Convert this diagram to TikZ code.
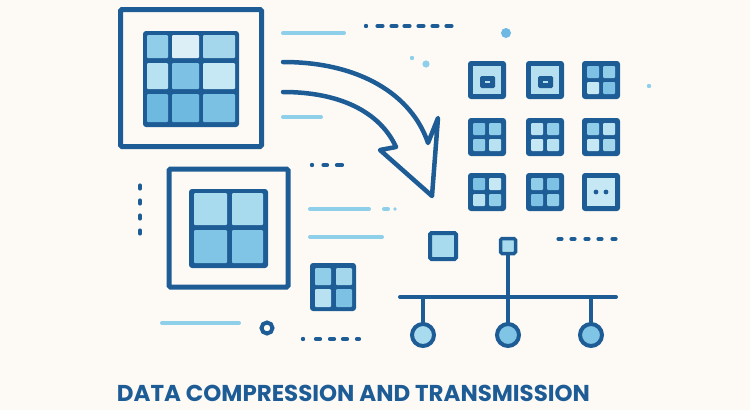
\documentclass[tikz,border=0pt]{standalone}
\usepackage{fontspec}
\newfontfamily\titlefont{Poppins}
\definecolor{bg}{RGB}{253,250,246}
\definecolor{dk}{RGB}{30,92,150}
\definecolor{lt}{RGB}{142,207,234}
\definecolor{dotlt}{RGB}{110,185,228}
\definecolor{ca}{RGB}{143,205,232}
\definecolor{cb}{RGB}{220,239,246}
\definecolor{cc}{RGB}{165,215,236}
\definecolor{cd}{RGB}{184,225,241}
\definecolor{ce}{RGB}{125,194,228}
\definecolor{cf}{RGB}{198,231,244}
\definecolor{cg}{RGB}{110,185,224}
\definecolor{ch}{RGB}{169,219,238}
\definecolor{ci}{RGB}{128,196,230}
\definecolor{cj}{RGB}{182,223,240}
\newcommand\quadicon[6]{%
  \fill[dk, rounded corners=3] (#1-19,#2-19) rectangle (#1+19,#2+19);
  \fill[#3, rounded corners=1] (#1-14,#2-14) rectangle (#1-2,#2-2);
  \fill[#4, rounded corners=1] (#1+2,#2-14) rectangle (#1+14,#2-2);
  \fill[#5, rounded corners=1] (#1-14,#2+2) rectangle (#1-2,#2+14);
  \fill[#6, rounded corners=1] (#1+2,#2+2) rectangle (#1+14,#2+14);
}
\newcommand\boxicon[2]{%
  \fill[dk, rounded corners=3] (#1-19,#2-19) rectangle (#1+19,#2+19);
  \fill[cj] (#1-14,#2-14) rectangle (#1+14,#2+14);
  \fill[dk, rounded corners=1.5] (#1-7,#2-4) rectangle (#1+8,#2+8);
  \fill[cj] (#1-2,#2+1) rectangle (#1+3,#2+3);
}
\tikzset{
  frame/.style={draw=dk, line width=5},
  ltline/.style={draw=lt, line width=4, line cap=round},
  dkdash/.style={draw=dk, line width=4.2, line cap=round},
  arrowline/.style={draw=dk, line width=4.5, line join=round, line cap=round},
  wire/.style={draw=dk, line width=4, line cap=round},
  netnode/.style={circle, draw=dk, line width=4, minimum size=22pt, inner sep=0pt},
}
\begin{document}
\begin{tikzpicture}[x=1pt,y=-1pt]
\fill[bg] (0,0) rectangle (750,410);
\useasboundingbox (0,0) rectangle (750,410);

% frame 1 with 3x3 grid
\draw[frame, rounded corners=1.5] (120.5,9.5) rectangle (261.5,146.5);
\fill[dk, rounded corners=3] (143,31) rectangle (239,127);
\fill[ca, rounded corners=1] (147,35) rectangle (168,58);
\fill[cb, rounded corners=1] (172,35) rectangle (199,58);
\fill[cc, rounded corners=1] (203,35) rectangle (235,58);
\fill[cd, rounded corners=1] (147,63) rectangle (168,89);
\fill[ce, rounded corners=1] (172,63) rectangle (199,89);
\fill[cf, rounded corners=1] (203,63) rectangle (235,89);
\fill[cg, rounded corners=1] (147,94) rectangle (168,122);
\fill[cg, rounded corners=1] (172,94) rectangle (199,122);
\fill[ce!90!cg, rounded corners=1] (203,94) rectangle (235,122);

% frame 2 with 2x2 grid
\draw[frame, rounded corners=1.5] (169,169) rectangle (288,287);
\fill[dk, rounded corners=3] (189,189) rectangle (268,268);
\fill[ch, rounded corners=1] (194,193) rectangle (227,225);
\fill[ch, rounded corners=1] (232,193) rectangle (263,225);
\fill[ci, rounded corners=1] (194,230) rectangle (227,263);
\fill[ci, rounded corners=1] (232,230) rectangle (263,263);

% small 2x2 grid
\fill[dk, rounded corners=3] (310,263) rectangle (356,311);
\fill[ca, rounded corners=1] (315,268) rectangle (331,285);
\fill[cc, rounded corners=1] (336,268) rectangle (352,285);
\fill[cd, rounded corners=1] (315,289) rectangle (331,307);
\fill[ce, rounded corners=1] (336,289) rectangle (352,307);

% light lines
\draw[ltline] (283,33) -- (344,33);
\draw[ltline] (283,117) -- (321,117);
\draw[ltline] (310,209) -- (369,209);
\draw[ltline] (384,209) -- (388,209);
\fill[lt] (395,209) circle (1.8);
\draw[ltline] (310,237) -- (382,237);
\draw[ltline] (162,323) -- (239,323);

% light dots
\fill[lt] (412,58) circle (2.2);
\fill[lt] (426,64) circle (3.6);
\fill[dotlt] (506,33) circle (5);
\fill[lt] (649,86) circle (2.2);

% ring
\draw[dk, line width=4] (267,328) circle (5.5);

% dark dashes
\fill[dk] (366,26) circle (2.2);
\foreach \x in {380,394,407,421,435,449} \draw[dkdash] (\x-2.5,26) -- (\x+2.5,26);
\fill[dk] (312,165) circle (2.2);
\draw[dkdash] (323.5,165) -- (327,165);
\draw[dkdash] (337,165) -- (342,165);
\foreach \y in {187,202,217,232} \draw[dkdash] (140,\y-1.5) -- (140,\y+1.5);
\fill[dk] (303,339) circle (2.2);
\foreach \x in {318,332,345} \draw[dkdash] (\x-2,339) -- (\x+2,339);
\draw[dkdash] (357,339) -- (359,339);
\foreach \x in {560,573,587,600,614} \draw[dkdash] (\x-1.5,239) -- (\x+1.5,239);

% curved arrow
\draw[arrowline] (283,62) .. controls (360,62) and (412,95) .. (428,143)
  -- (438,118) -- (432,196) -- (380,150) -- (396,147)
  .. controls (380,112) and (340,92) .. (283,92);

% icon grid
\boxicon{487}{80}
\boxicon{545}{80}
\quadicon{601}{80}{ce}{ca}{cf}{ce}
\quadicon{487}{137}{ce}{ca}{ca}{cd}
\quadicon{545}{137}{cd}{ca}{cf}{cd}
\quadicon{601}{137}{ca}{cd}{cf}{cc}
\quadicon{487}{192}{ce}{cf}{cd}{ca}
\quadicon{545}{192}{ca}{ce}{ce}{ca}
\fill[dk, rounded corners=3] (582,173) rectangle (620,211);
\fill[cf] (587,178) rectangle (615,206);
\fill[dk] (596,192) circle (2.4);
\fill[dk] (606,192) circle (2.4);

% network
\node[draw=dk, line width=4, fill=ch, rounded corners=1.5, minimum size=26pt, inner sep=0pt] (sq) at (443,246) {};
\node[draw=dk, line width=3.5, fill=ch, rounded corners=1.5, minimum size=15pt, inner sep=0pt] (hub) at (508,246) {};
\coordinate (busL) at (400,297);
\coordinate (busR) at (616,297);
\coordinate (busM) at (508,297);
\coordinate (bus1) at (423,297);
\coordinate (bus3) at (591,297);
\node[netnode, fill=ch] (n1) at (423,335) {};
\node[netnode, fill=ci] (n2) at (508,335) {};
\node[netnode, fill=ci] (n3) at (591,335) {};
\draw[wire] (busL) -- (busR);
\draw[wire] (hub) -- (busM);
\draw[wire] (bus1) -- (n1);
\draw[wire] (busM) -- (n2);
\draw[wire] (bus3) -- (n3);

% title
\node[text=dk, font=\titlefont\bfseries, anchor=center, inner sep=0pt] (title) at (353.5,393)
  {\resizebox{473pt}{!}{DATA COMPRESSION AND TRANSMISSION}};
\end{tikzpicture}
\end{document}
